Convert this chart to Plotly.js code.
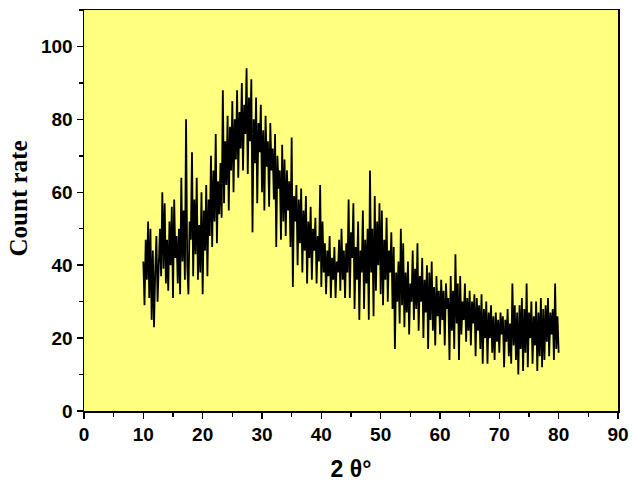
<!DOCTYPE html>
<html>
<head>
<meta charset="utf-8">
<script src="https://cdn.plot.ly/plotly-3.0.1.min.js"></script>
<style>html,body{margin:0;padding:0;background:#fff}#chart{width:632px;height:484px}</style>
</head>
<body>
<div id="chart"></div>
<script>
// 2θ sampling: start 10°, step 0.2°, up to 80°
const startAngle = 10;
const stepAngle = 0.2;

// Count rate, each row covers 2° (10 samples)
const counts = [
  41, 29, 47, 36, 52, 31, 50, 25, 44, 23,   // 10.0 - 11.8
  38, 48, 30, 44, 50, 37, 60, 39, 57, 35,   // 12.0 - 13.8
  47, 33, 52, 40, 56, 31, 58, 42, 48, 35,   // 14.0 - 15.8
  50, 32, 64, 41, 55, 36, 80, 40, 32, 52,   // 16.0 - 17.8
  47, 71, 37, 58, 43, 64, 36, 51, 38, 60,   // 18.0 - 19.8
  32, 55, 44, 62, 37, 58, 48, 70, 45, 66,   // 20.0 - 21.8
  52, 76, 46, 63, 54, 68, 53, 88, 57, 74,   // 22.0 - 23.8
  62, 81, 55, 78, 66, 85, 60, 80, 69, 88,   // 24.0 - 25.8
  64, 82, 72, 90, 66, 84, 76, 94, 65, 86,   // 26.0 - 27.8
  74, 91, 49, 80, 68, 86, 57, 79, 71, 84,   // 28.0 - 29.8
  60, 77, 55, 81, 67, 74, 56, 79, 66, 72,   // 30.0 - 31.8
  58, 76, 45, 70, 61, 66, 47, 73, 52, 69,   // 32.0 - 33.8
  48, 66, 55, 63, 45, 75, 34, 59, 52, 62,   // 34.0 - 35.8
  40, 58, 46, 61, 38, 55, 44, 59, 35, 52,   // 36.0 - 37.8
  42, 56, 36, 50, 44, 53, 35, 48, 41, 62,   // 38.0 - 39.8
  34, 52, 38, 46, 32, 44, 37, 48, 31, 42,   // 40.0 - 41.8
  36, 45, 31, 41, 38, 47, 33, 50, 36, 44,   // 42.0 - 43.8
  31, 46, 38, 58, 31, 49, 42, 57, 28, 45,   // 44.0 - 45.8
  36, 52, 25, 44, 38, 55, 28, 47, 35, 50,   // 46.0 - 47.8
  25, 66, 38, 50, 26, 59, 33, 52, 40, 57,   // 48.0 - 49.8
  32, 55, 29, 47, 36, 53, 30, 44, 38, 49,   // 50.0 - 51.8
  28, 45, 17, 38, 30, 41, 24, 50, 29, 46,   // 52.0 - 53.8
  23, 38, 27, 41, 21, 35, 30, 44, 25, 39,   // 54.0 - 55.8
  28, 46, 22, 37, 30, 42, 20, 36, 27, 40,   // 56.0 - 57.8
  17, 38, 25, 41, 22, 34, 18, 37, 26, 33,   // 58.0 - 59.8
  21, 36, 25, 33, 18, 35, 28, 31, 14, 37,   // 60.0 - 61.8
  22, 33, 17, 43, 24, 35, 14, 37, 21, 30,   // 62.0 - 63.8
  25, 35, 19, 31, 22, 33, 18, 30, 24, 32,   // 64.0 - 65.8
  15, 31, 22, 29, 17, 32, 13, 28, 20, 30,   // 66.0 - 67.8
  13, 27, 20, 29, 16, 26, 14, 27, 19, 25,   // 68.0 - 69.8
  16, 27, 21, 26, 12, 25, 19, 28, 15, 24,   // 70.0 - 71.8
  13, 35, 18, 29, 14, 27, 10, 29, 17, 31,   // 72.0 - 73.8
  11, 28, 16, 35, 12, 27, 20, 30, 13, 26,   // 74.0 - 75.8
  18, 30, 11, 27, 15, 31, 12, 28, 14, 29,   // 76.0 - 77.8
  19, 31, 15, 27, 21, 28, 14, 35, 17, 26,   // 78.0 - 79.8
  16                                        // 80.0
];

const xTickVals = [0, 10, 20, 30, 40, 50, 60, 70, 80, 90];
const yTickVals = [0, 20, 40, 60, 80, 100];
const xTitle = '2 θ°';
const yTitle = 'Count rate';

const twoTheta = counts.map((_, i) => +(startAngle + stepAngle * i).toFixed(2));

const trace = {
  x: twoTheta,
  y: counts,
  type: 'scatter',
  mode: 'lines',
  line: {color: '#000000', width: 1.8},
  hoverinfo: 'skip'
};

const tickFont = {family: 'Liberation Sans, Arial, sans-serif', size: 19, color: '#000', weight: 'bold'};

const layout = {
  width: 632,
  height: 484,
  margin: {l: 84, r: 14, t: 10, b: 73},
  paper_bgcolor: '#ffffff',
  plot_bgcolor: '#ffff80',
  showlegend: false,
  xaxis: {
    range: [0, 90],
    tickvals: xTickVals,
    ticks: 'outside',
    ticklen: 6,
    tickwidth: 1.5,
    tickcolor: '#000',
    showline: true,
    linecolor: '#000',
    linewidth: 1.5,
    mirror: true,
    showgrid: false,
    zeroline: false,
    tickfont: tickFont,
    minor: {dtick: 5, ticks: 'outside', ticklen: 4, tickwidth: 1.5, tickcolor: '#000', showgrid: false},
    title: {text: xTitle, font: {family: 'Liberation Sans, Arial, sans-serif', size: 23, color: '#000', weight: 'bold'}, standoff: 16}
  },
  yaxis: {
    range: [0, 110],
    tickvals: yTickVals,
    ticks: 'outside',
    ticklen: 6,
    tickwidth: 1.5,
    tickcolor: '#000',
    showline: true,
    linecolor: '#000',
    linewidth: 1.5,
    mirror: true,
    showgrid: false,
    zeroline: false,
    tickfont: tickFont,
    minor: {dtick: 10, ticks: 'outside', ticklen: 4, tickwidth: 1.5, tickcolor: '#000', showgrid: false}
  },
  annotations: [{
    text: yTitle,
    xref: 'paper', yref: 'paper',
    x: -0.1236, y: 0.53,
    xanchor: 'center', yanchor: 'middle',
    textangle: -90,
    showarrow: false,
    font: {family: 'Liberation Serif, Times New Roman, serif', size: 25, color: '#000', weight: 'bold'}
  }]
};

Plotly.newPlot('chart', [trace], layout, {displayModeBar: false, staticPlot: true});
</script>
</body>
</html>
